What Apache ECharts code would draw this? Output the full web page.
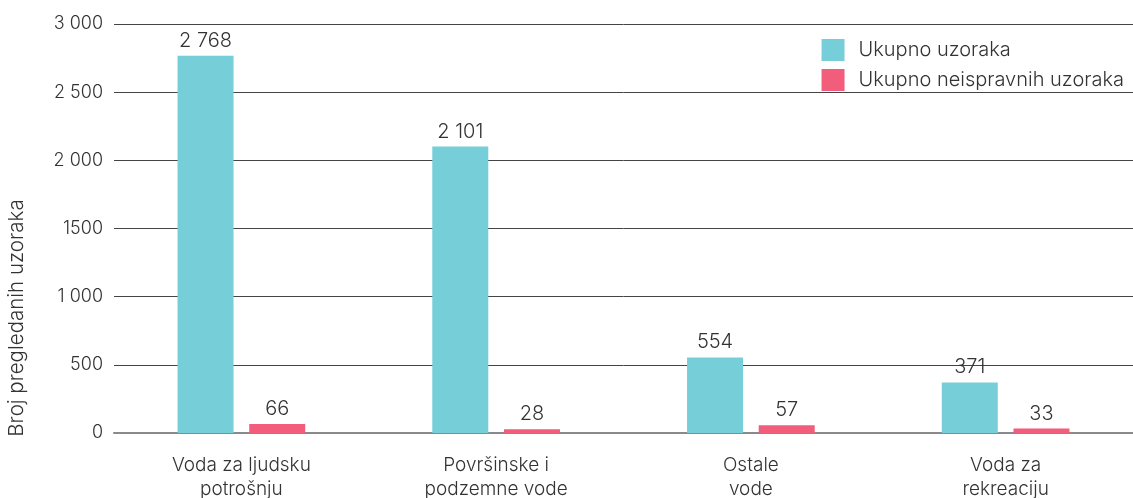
<!DOCTYPE html>
<html><head><meta charset="utf-8">
<script src="https://cdn.jsdelivr.net/npm/echarts@6/dist/echarts.min.js"></script>
<style>html,body{margin:0;padding:0;background:#fff}#c{width:1133px;height:498px}</style>
</head><body><div id="c"></div>
<script>
const categories = ['Voda za ljudsku\npotrošnju', 'Površinske i\npodzemne vode', 'Ostale\nvode', 'Voda za\nrekreaciju'];
const totalSamples = [2768, 2101, 554, 371];
const faultySamples = [66, 28, 57, 33];
const yTickLabels = {0: '0', 500: '500', 1000: '1 000', 1500: '1500', 2000: '2 000', 2500: '2 500', 3000: '3 000'};
const seriesNames = ['Ukupno uzoraka', 'Ukupno neispravnih uzoraka'];
const yAxisTitle = 'Broj pregledanih uzoraka';

function fmt(v){ return String(v).replace(/\B(?=(\d{3})+(?!\d))/g, ' '); }

const FONT = 'Inter';
const W = 350;
const TXT = '#333';
const chart = echarts.init(document.getElementById('c'));
chart.setOption({
  animation: false,
  textStyle: {fontFamily: FONT, fontWeight: W},
  grid: {left: 114, right: 0, top: 24, bottom: 65, containLabel: false, outerBoundsMode: 'none'},
  legend: {
    right: 4, top: 34, orient: 'vertical', itemWidth: 23, itemHeight: 22, itemGap: 8,
    icon: 'rect',
    textStyle: {fontFamily: FONT, fontWeight: W, fontSize: 20, lineHeight: 22, color: TXT, padding: [0,0,0,9]},
    data: seriesNames
  },
  graphic: [{
    type: 'text', x: 17, y: 318, rotation: Math.PI/2,
    style: {text: yAxisTitle, font: W + ' 20.5px Inter', fill: TXT, align: 'center', verticalAlign: 'middle'}
  }],
  xAxis: {
    type: 'category', data: categories,
    axisLine: {lineStyle: {color: '#8a8a8a', width: 2}},
    axisTick: {show: false},
    axisLabel: {fontFamily: FONT, fontWeight: W, fontSize: 19, color: TXT, lineHeight: 24, margin: 20, interval: 0}
  },
  yAxis: {
    type: 'value', min: 0, max: 3000, interval: 500,
    axisLine: {show: false}, axisTick: {show: false},
    axisLabel: {fontFamily: FONT, fontWeight: W, fontSize: 18, color: TXT, margin: 11, formatter: v => yTickLabels[v]},
    splitLine: {lineStyle: {color: '#444', width: 1}}
  },
  series: [
    {name: seriesNames[0], type: 'bar', data: totalSamples, barWidth: 56, barGap: '28%',
     itemStyle: {color: '#76CED9'},
     label: {show: true, position: 'top', distance: 5, fontFamily: FONT, fontWeight: W, fontSize: 20, color: TXT, formatter: p => fmt(p.value)}},
    {name: seriesNames[1], type: 'bar', data: faultySamples, barWidth: 56,
     itemStyle: {color: '#F25D7C'},
     label: {show: true, position: 'top', distance: 5, fontFamily: FONT, fontWeight: W, fontSize: 20, color: TXT, formatter: p => fmt(p.value)}}
  ]
});
</script></body></html>
